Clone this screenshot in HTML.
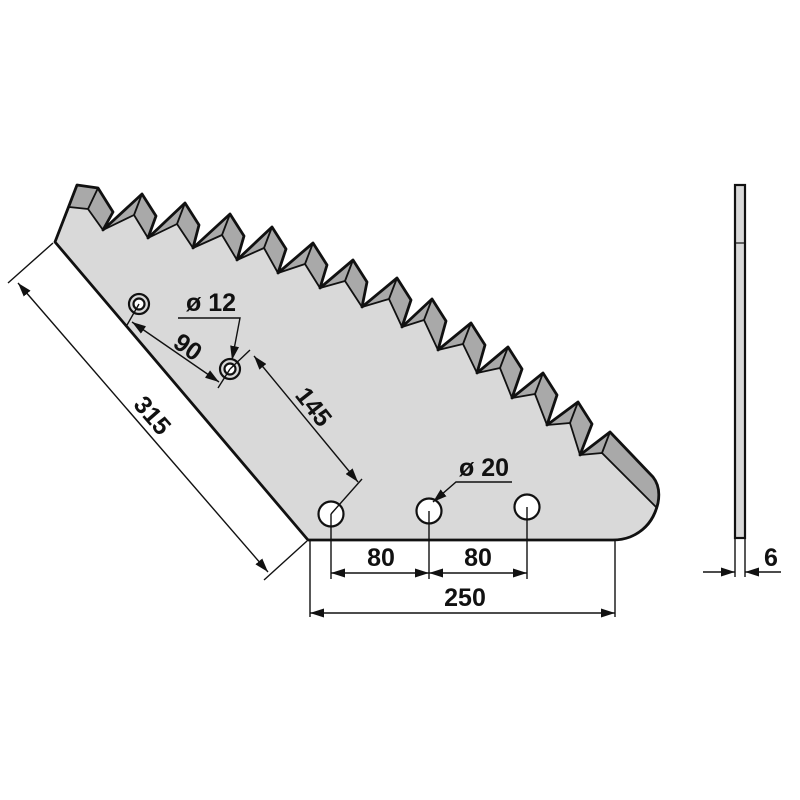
<!DOCTYPE html>
<html><head><meta charset="utf-8"><style>
html,body{margin:0;padding:0;background:#fff;}
svg{display:block;}
text{font-family:"Liberation Sans",Arial,sans-serif;font-weight:bold;fill:#111;}
</style></head><body>
<svg width="800" height="800" viewBox="0 0 800 800" xmlns="http://www.w3.org/2000/svg">
<defs>
<marker id="a" viewBox="0 0 14 9" refX="14" refY="4.5" markerWidth="14" markerHeight="9" markerUnits="userSpaceOnUse" orient="auto-start-reverse"><path d="M0,0 L14,4.5 L0,9 Z" fill="#111"/></marker>
</defs>
<path d="M55,242 L77,185 L98,188 L113,212 L103,230
L142,194 L156,216 L148,238
L185,203 L199,225 L193,248
L230,214 L244,236 L237,260
L272,227 L286,249 L278,273
L313,243 L327,265 L320,288
L353,260 L367,282 L362,307
L397,278 L411,300 L402,327
L432,299 L446,321 L438,350
L471,323 L485,345 L477,373
L508,347 L522,369 L512,398
L543,373 L557,395 L547,425
L578,402 L592,424 L580,455
L610,432 L653,477 Q661,487 658,503 Q652,528 630,537 Q622,540 613,540 L308,540 Z" fill="#a9a9a9"/>
<path d="M55,242 L69,207 L88,209 L103,230 L134,215 L148,238 L177,224 L193,248 L222,235 L237,260 L264,248 L278,273 L305,264 L320,288 L345,281 L362,307 L389,299 L402,327 L424,320 L438,350 L463,344 L477,373 L500,368 L512,398 L535,394 L547,425 L570,423 L580,455 L602,453 L657,508 Q651,529 630,537 Q622,540 613,540 L308,540 Z" fill="#d9d9d9" stroke="#111" stroke-width="1.8" stroke-linejoin="round"/>
<g stroke="#111" stroke-width="1.8">
<line x1="77" y1="185" x2="69" y2="207"/><line x1="98" y1="188" x2="88" y2="209"/>
<line x1="142" y1="194" x2="134" y2="215"/><line x1="185" y1="203" x2="177" y2="224"/>
<line x1="230" y1="214" x2="222" y2="235"/><line x1="272" y1="227" x2="264" y2="248"/>
<line x1="313" y1="243" x2="305" y2="264"/><line x1="353" y1="260" x2="345" y2="281"/>
<line x1="397" y1="278" x2="389" y2="299"/><line x1="432" y1="299" x2="424" y2="320"/>
<line x1="471" y1="323" x2="463" y2="344"/><line x1="508" y1="347" x2="500" y2="368"/>
<line x1="543" y1="373" x2="535" y2="394"/><line x1="578" y1="402" x2="570" y2="423"/>
<line x1="610" y1="432" x2="602" y2="453"/>
</g>
<path d="M55,242 L77,185 L98,188 L113,212 L103,230
L142,194 L156,216 L148,238
L185,203 L199,225 L193,248
L230,214 L244,236 L237,260
L272,227 L286,249 L278,273
L313,243 L327,265 L320,288
L353,260 L367,282 L362,307
L397,278 L411,300 L402,327
L432,299 L446,321 L438,350
L471,323 L485,345 L477,373
L508,347 L522,369 L512,398
L543,373 L557,395 L547,425
L578,402 L592,424 L580,455
L610,432 L653,477 Q661,487 658,503 Q652,528 630,537 Q622,540 613,540 L308,540 Z" fill="none" stroke="#111" stroke-width="2.8" stroke-linejoin="round"/>
<g stroke="#111" stroke-width="2.2" fill="#fff">
<circle cx="139" cy="304" r="10" fill="#d9d9d9"/><circle cx="139" cy="304" r="5.5"/>
<circle cx="230" cy="369" r="10" fill="#d9d9d9"/><circle cx="230" cy="369" r="5.5"/>
<circle cx="331" cy="514" r="12.5"/><circle cx="429" cy="511" r="12.5"/><circle cx="527" cy="507" r="12.5"/>
</g>
<g stroke="#111" stroke-width="1.4" fill="none">
<line x1="53" y1="243" x2="8" y2="283"/>
<line x1="307" y1="541" x2="264" y2="580"/>
<line x1="18" y1="283" x2="268" y2="572" marker-start="url(#a)" marker-end="url(#a)"/>
<line x1="139" y1="304" x2="127" y2="325"/>
<line x1="230" y1="369" x2="218" y2="388"/>
<line x1="132" y1="322" x2="219" y2="382" marker-start="url(#a)" marker-end="url(#a)"/>
<polyline points="178,318 240,318 232,360" marker-end="url(#a)"/>
<line x1="230" y1="369" x2="250" y2="350"/>
<line x1="331" y1="514" x2="362" y2="479"/>
<line x1="254" y1="356" x2="358" y2="482" marker-start="url(#a)" marker-end="url(#a)"/>
<polyline points="512,482 456,482 433,502" marker-end="url(#a)"/>
<line x1="331" y1="514" x2="331" y2="579"/>
<line x1="429" y1="511" x2="429" y2="579"/>
<line x1="527" y1="507" x2="527" y2="579"/>
<line x1="331" y1="573" x2="429" y2="573" marker-start="url(#a)" marker-end="url(#a)"/>
<line x1="429" y1="573" x2="527" y2="573" marker-start="url(#a)" marker-end="url(#a)"/>
<line x1="310" y1="541" x2="310" y2="617"/>
<line x1="615" y1="541" x2="615" y2="617"/>
<line x1="310" y1="613" x2="615" y2="613" marker-start="url(#a)" marker-end="url(#a)"/>
<line x1="735" y1="538" x2="735" y2="577"/>
<line x1="745" y1="538" x2="745" y2="577"/>
<line x1="703" y1="572" x2="735" y2="572" marker-end="url(#a)"/>
<line x1="781" y1="572" x2="745" y2="572" marker-end="url(#a)"/>
</g>
<rect x="735" y="185" width="10" height="353" fill="#d9d9d9" stroke="#111" stroke-width="2.2"/>
<line x1="735" y1="243" x2="745" y2="243" stroke="#111" stroke-width="1.2"/>
<g font-size="25">
<text x="0" y="0" transform="translate(146,421) rotate(49)" text-anchor="middle">315</text>
<text x="0" y="0" transform="translate(183,354) rotate(35)" text-anchor="middle">90</text>
<text x="0" y="0" transform="translate(307,412) rotate(52)" text-anchor="middle">145</text>
<text x="211" y="311" text-anchor="middle">ø 12</text>
<text x="484" y="476" text-anchor="middle">ø 20</text>
<text x="381" y="566" text-anchor="middle">80</text>
<text x="478" y="566" text-anchor="middle">80</text>
<text x="465" y="606" text-anchor="middle">250</text>
<text x="771" y="566" text-anchor="middle">6</text>
</g>
</svg>
</body></html>
